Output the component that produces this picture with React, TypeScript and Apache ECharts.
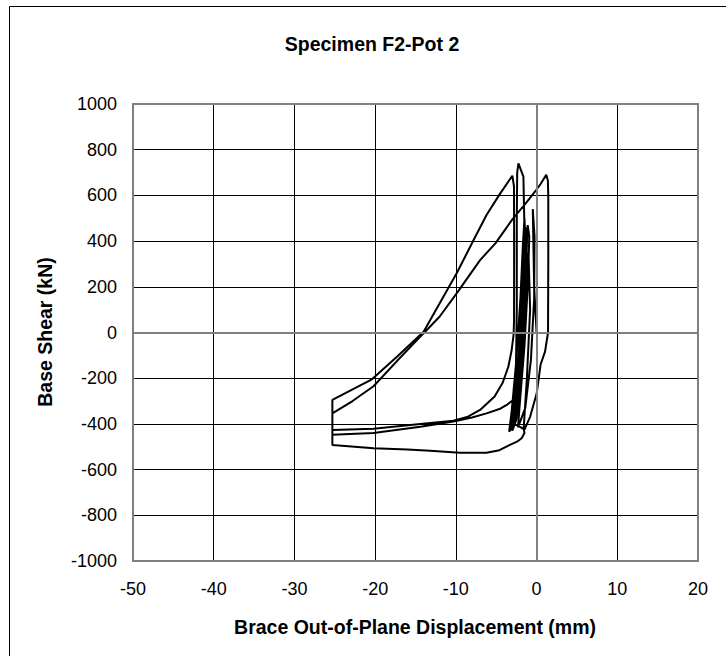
import React, { useEffect, useRef } from "react";
import * as echarts from "echarts";

// Axis ranges / ticks
const xMin = -50, xMax = 20, xStep = 10;
const yMin = -1000, yMax = 1000, yStep = 200;

const titleText = "Specimen F2-Pot 2";
const xTitle = "Brace Out-of-Plane Displacement (mm)";
const yTitle = "Base Shear (kN)";

// Hysteresis path segments [displacement (mm), base shear (kN)]
const clusterStart: number[][] = [
  [0, 0], [-0.3, 200], [-0.47, 540], [-0.25, 420], [-0.3, 150], [-0.7, -120],
  [-1.4, -330], [-2.3, -415], [-2.1, -320], [-1.5, -60], [-1.1, 200], [-0.9, 420],
  [-1.1, 470], [-1.3, 300], [-1.7, 20], [-2.4, -280], [-3.1, -420], [-3.4, -434],
  [-3.1, -350], [-2.5, -120], [-2.0, 150], [-1.7, 380], [-1.5, 500], [-1.4, 420],
  [-1.6, 150], [-2.2, -200], [-2.9, -400],
];
const spikeCycle: number[][] = [
  [-2.6, -250], [-2.45, 100], [-2.45, 500], [-2.4, 700], [-2.25, 740], [-1.63, 682],
  [-1.5, 450], [-1.45, 250], [-1.7, 0], [-2.2, -250], [-2.8, -400], [-2.2, -410],
];
const rightLoopUp: number[][] = [
  [-1.5, -425], [-0.8, -369], [0.02, -266], [0.5, -140], [1.05, -84], [1.42, 0],
  [1.45, 300], [1.45, 600], [1.4, 665], [1.2, 690],
];
const line2Down: number[][] = [
  [0.5, 650], [-0.2, 616], [-1.2, 572], [-3.0, 495], [-5.1, 390], [-7.0, 317],
  [-9.9, 171], [-12.0, 70], [-13.6, 11], [-14.4, -18], [-17.3, -125], [-20.2, -235],
  [-22.8, -300], [-25.3, -354], [-25.3, -492],
];
const bottomCurve: number[][] = [
  [-20.2, -507], [-16, -512], [-13.2, -517], [-9.5, -526], [-6.2, -526], [-4.6, -515],
  [-3.3, -492], [-2.3, -475], [-1.85, -463], [-1.5, -440], [-1.6, -420],
];
const clusterMid: number[][] = [
  [-1.2, -200], [-0.8, 100], [-1.0, 350], [-1.4, 100], [-2.0, -150], [-2.6, -360],
  [-3.2, -425], [-2.8, -330], [-2.2, -100], [-1.8, 150], [-1.55, 400], [-1.35, 460],
  [-1.25, 300], [-1.5, 50], [-1.9, -200], [-2.5, -380], [-3.0, -430], [-2.6, -300],
  [-2.0, -50], [-1.7, 250], [-1.6, 430], [-1.5, 300], [-1.8, 0], [-2.3, -200],
  [-2.7, -290],
];
const lineBLeft: number[][] = [
  [-3.7, -317], [-4.6, -335], [-6.2, -354], [-8, -372], [-10.3, -390], [-14.4, -412],
  [-20.2, -440], [-25.3, -447], [-25.3, -427],
];
const lineARight: number[][] = [
  [-20.2, -421], [-14.4, -400], [-10.3, -386], [-8.5, -368], [-7.0, -339], [-5.2, -280],
  [-4.2, -220], [-3.5, -150], [-3.1, -80], [-2.85, -10], [-2.79, 50], [-2.78, 400],
  [-2.8, 640], [-3.0, 686],
];
const line1Down: number[][] = [
  [-4.5, 609], [-6.2, 514], [-7.8, 405], [-9.9, 259], [-12.0, 128], [-14.0, 3],
  [-17.3, -106], [-20.4, -205], [-25.3, -295], [-25.3, -430],
];

const path = [
  ...clusterStart, ...spikeCycle, ...rightLoopUp, ...line2Down, ...bottomCurve,
  ...clusterMid, ...lineBLeft, ...lineARight, ...line1Down,
];

const FONT = '"Liberation Sans", Arial, sans-serif';

export default function App() {
  const ref = useRef<HTMLDivElement>(null);
  useEffect(() => {
    if (!ref.current) return;
    const chart = echarts.init(ref.current, undefined, { renderer: "svg" });
    const gl = 133, gt = 104, gw = 565, gh = 457;
    chart.setOption({
      animation: false,
      backgroundColor: "#fff",
      grid: { left: gl, top: gt, width: gw, height: gh, show: false },
      xAxis: {
        type: "value", min: xMin, max: xMax, interval: xStep,
        axisLine: { show: false }, axisTick: { show: false },
        splitLine: { show: true, lineStyle: { color: "#000", width: 1 } },
        axisLabel: { color: "#000", fontSize: 18, fontFamily: FONT, margin: 19, formatter: (v: number) => String(v) },
      },
      yAxis: {
        type: "value", min: yMin, max: yMax, interval: yStep,
        axisLine: { show: false }, axisTick: { show: false },
        splitLine: { show: true, lineStyle: { color: "#000", width: 1 } },
        axisLabel: { color: "#000", fontSize: 18, fontFamily: FONT, margin: 16, formatter: (v: number) => String(v) },
      },
      series: [
        {
          type: "line", data: [], silent: true, z: 1,
          markLine: {
            silent: true, symbol: "none", label: { show: false },
            lineStyle: { color: "#808080", width: 2, type: "solid" },
            data: [{ xAxis: 0 }, { yAxis: 0 }],
          },
        },
        {
          type: "line", data: path, showSymbol: false, symbol: "none", z: 3,
          lineStyle: { color: "#000", width: 2 },
        },
      ],
      graphic: [
        {
          type: "rect", z: -1, silent: true,
          shape: { x: 9.5, y: 6.5, width: 800, height: 800 },
          style: { fill: "none", stroke: "#000", lineWidth: 1 },
        },
        {
          type: "rect", z: 100, silent: true,
          shape: { x: gl, y: gt, width: gw, height: gh },
          style: { fill: "none", stroke: "#808080", lineWidth: 2 },
        },
        {
          type: "text", x: 372, y: 44, silent: true,
          style: { text: titleText, align: "center", verticalAlign: "middle", font: `bold 19.5px ${FONT}`, fill: "#000" },
        },
        {
          type: "text", x: 415, y: 627, silent: true,
          style: { text: xTitle, align: "center", verticalAlign: "middle", font: `bold 19.5px ${FONT}`, fill: "#000" },
        },
        {
          type: "text", x: 45, y: 332, rotation: Math.PI / 2, silent: true,
          style: { text: yTitle, align: "center", verticalAlign: "middle", font: `bold 19.5px ${FONT}`, fill: "#000" },
        },
      ],
    });
    return () => chart.dispose();
  }, []);
  return <div ref={ref} style={{ position: "fixed", left: 0, top: 0, width: 726, height: 656 }} />;
}
